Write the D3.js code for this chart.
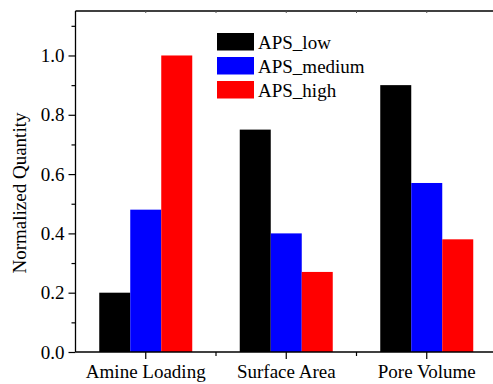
<!DOCTYPE html>
<html>
<head>
<meta charset="utf-8">
<script src="https://cdn.jsdelivr.net/npm/d3@7"></script>
<style>
  html, body { margin: 0; padding: 0; background: #fff; }
  svg { display: block; }
</style>
</head>
<body>
<svg id="chart" width="493" height="384"></svg>
<script>
// Chart data
const categories = ["Amine Loading", "Surface Area", "Pore Volume"];
const seriesNames = ["APS_low", "APS_medium", "APS_high"];
const seriesColors = ["#000000", "#0000ff", "#ff0000"];
const apsLow = [0.20, 0.75, 0.90];
const apsMedium = [0.48, 0.40, 0.57];
const apsHigh = [1.00, 0.27, 0.38];
const yTicks = [0.0, 0.2, 0.4, 0.6, 0.8, 1.0];
const yMinorTicks = [0.1, 0.3, 0.5, 0.7, 0.9, 1.1];

const seriesValues = [apsLow, apsMedium, apsHigh];

// Pick the first installed serif face from a list of candidates
function pickFont(candidates) {
  const ctx = document.createElement("canvas").getContext("2d");
  const sample = "Amine Loading APS_medium 0.123";
  ctx.font = "40px monospace";
  const base = ctx.measureText(sample).width;
  for (const f of candidates) {
    ctx.font = `40px "${f}", monospace`;
    if (Math.abs(ctx.measureText(sample).width - base) > 0.5) return `"${f}"`;
  }
  return "serif";
}
const serifFont = pickFont(["Liberation Serif", "Times New Roman", "Tinos", "Nimbus Roman", "DejaVu Serif"]);

const svg = d3.select("#chart").style("font-family", serifFont);
const W = 493;
const plotLeft = 75.5, plotTop = 11, plotBottom = 352;
const plotRight = 497;
const fontSize = 19;

const x = d3.scaleBand().domain(categories).range([plotLeft, plotRight]).padding(0);
const xInner = d3.scaleBand().domain(seriesNames).range([-46.5, 46.5]).padding(0);
const y = d3.scaleLinear().domain([0, 1.15]).range([plotBottom, plotTop]);

// Bars
const rows = [];
categories.forEach((c, ci) => {
  seriesNames.forEach((s, si) => {
    rows.push({ cat: c, series: s, value: seriesValues[si][ci], color: seriesColors[si] });
  });
});

svg.append("g").selectAll("rect").data(rows).join("rect")
  .attr("x", d => x(d.cat) + x.bandwidth() / 2 + xInner(d.series))
  .attr("width", xInner.bandwidth())
  .attr("y", d => y(d.value))
  .attr("height", d => y(0) - y(d.value))
  .attr("fill", d => d.color);

// Top edge of the frame (right side lies beyond the canvas)
svg.append("line")
  .attr("x1", plotLeft).attr("x2", W + 5).attr("y1", plotTop).attr("y2", plotTop)
  .attr("stroke", "#000").attr("stroke-width", 1.3);

// Y axis
const yAxis = svg.append("g").attr("transform", `translate(${plotLeft},0)`)
  .call(d3.axisLeft(y).tickValues(yTicks).tickFormat(d3.format(".1f")).tickSize(7).tickPadding(4));
yAxis.attr("font-family", null).attr("font-size", fontSize);
yAxis.select(".domain").attr("d", `M0,${plotBottom}V${plotTop}`).attr("stroke-width", 1.3);
yAxis.selectAll(".tick line").attr("stroke-width", 1.2);

const yMinor = svg.append("g").attr("transform", `translate(${plotLeft},0)`)
  .call(d3.axisLeft(y).tickValues(yMinorTicks).tickFormat("").tickSize(4));
yMinor.select(".domain").remove();
yMinor.selectAll(".tick line").attr("stroke-width", 1.2);

// X axis
const xAxis = svg.append("g").attr("transform", `translate(0,${plotBottom})`)
  .call(d3.axisBottom(x).tickSize(7).tickPadding(6));
xAxis.attr("font-family", null).attr("font-size", fontSize);
xAxis.select(".domain").attr("d", `M${plotLeft},0H${W + 5}`).attr("stroke-width", 1.3);
xAxis.selectAll(".tick line").attr("stroke-width", 1.2);

// Minor x ticks at category boundaries
const boundaries = categories.slice(1).map(c => x(c));
svg.append("g").selectAll("line").data(boundaries).join("line")
  .attr("x1", d => d).attr("x2", d => d)
  .attr("y1", plotBottom).attr("y2", plotBottom + 4)
  .attr("stroke", "#000").attr("stroke-width", 1.2);

// Small mirrored ticks on the top edge
const topTicks = categories.map(c => x(c) + x.bandwidth() / 2).concat(boundaries);
svg.append("g").selectAll("line").data(topTicks).join("line")
  .attr("x1", d => d).attr("x2", d => d)
  .attr("y1", plotTop).attr("y2", plotTop + 2)
  .attr("stroke", "#555").attr("stroke-width", 1);

// Y axis title
svg.append("text")
  .attr("transform", `translate(26,193) rotate(-90)`)
  .attr("text-anchor", "middle")
  .attr("font-size", fontSize)
  .text("Normalized Quantity");

// Legend
const legend = svg.append("g").attr("transform", "translate(217,33)");
const items = legend.selectAll("g").data(seriesNames).join("g")
  .attr("transform", (d, i) => `translate(0,${i * 24})`);
items.append("rect").attr("width", 37).attr("height", 17.5)
  .attr("fill", (d, i) => seriesColors[i]);
items.append("text").attr("x", 41).attr("y", 15.5)
  .attr("font-size", fontSize).text(d => d);
</script>
</body>
</html>
